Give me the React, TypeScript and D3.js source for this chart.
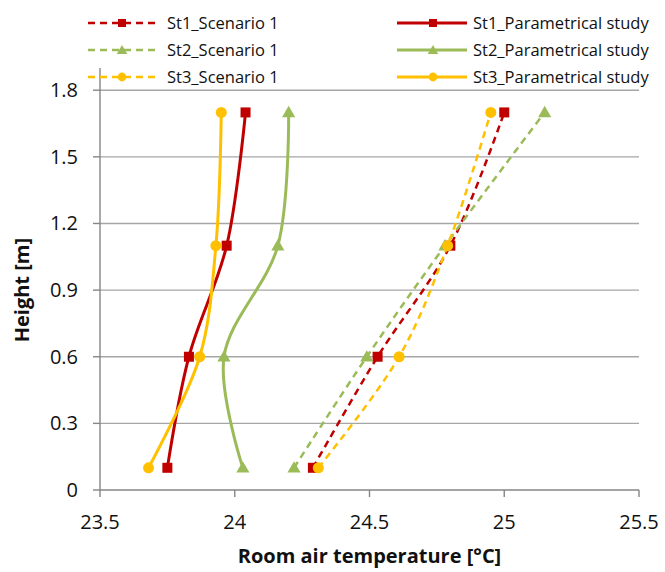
import * as d3 from 'd3'

// heights of the measuring points [m]
const heights = [0.1, 0.6, 1.1, 1.7]

// room air temperature [°C]
const st1Scenario = [24.29, 24.53, 24.8, 25.0]
const st2Scenario = [24.22, 24.49, 24.78, 25.15]
const st3Scenario = [24.31, 24.61, 24.79, 24.95]
const st1Param = [23.75, 23.83, 23.97, 24.04]
const st2Param = [24.03, 23.96, 24.16, 24.2]
const st3Param = [23.68, 23.87, 23.93, 23.95]

const xTicks = [23.5, 24, 24.5, 25, 25.5]
const yTicks = [0, 0.3, 0.6, 0.9, 1.2, 1.5, 1.8]

type Marker = 'square' | 'triangle' | 'circle'
type Series = {
    name: string
    values: number[]
    color: string
    marker: Marker
    dashed: boolean
}

const RED = '#c00000'
const GREEN = '#9bbb59'
const YELLOW = '#ffc000'

const series: Series[] = [
    { name: 'St1_Scenario 1', values: st1Scenario, color: RED, marker: 'square', dashed: true },
    { name: 'St2_Scenario 1', values: st2Scenario, color: GREEN, marker: 'triangle', dashed: true },
    { name: 'St3_Scenario 1', values: st3Scenario, color: YELLOW, marker: 'circle', dashed: true },
    { name: 'St1_Parametrical study', values: st1Param, color: RED, marker: 'square', dashed: false },
    { name: 'St2_Parametrical study', values: st2Param, color: GREEN, marker: 'triangle', dashed: false },
    { name: 'St3_Parametrical study', values: st3Param, color: YELLOW, marker: 'circle', dashed: false },
]

const W = 665
const H = 572
const FONT = '"Open Sans", "DejaVu Sans", sans-serif'

const x = d3.scaleLinear().domain([23.5, 25.5]).range([100, 639])
const y = d3.scaleLinear().domain([0, 1.9]).range([490, 68])

const MarkerShape = ({ kind, cx, cy, color, size = 1 }: { kind: Marker; cx: number; cy: number; color: string; size?: number }) => {
    if (kind === 'square') {
        const s = 10 * size
        return <rect x={cx - s / 2} y={cy - s / 2} width={s} height={s} fill={color} />
    }
    if (kind === 'circle') {
        return <circle cx={cx} cy={cy} r={5.5 * size} fill={color} />
    }
    const sym = d3.symbol().type(d3.symbolTriangle).size(75 * size * size)()
    return <path d={sym || ''} transform={`translate(${cx},${cy + 1})`} fill={color} />
}

const App = () => {
    const line = d3
        .line<number>()
        .x(d => x(d))
        .y((_, i) => y(heights[i]))
        .curve(d3.curveCatmullRom.alpha(0.5))

    const legendRows = [23, 50, 77]

    return (
        <svg width={W} height={H} style={{ position: 'absolute', left: 0, top: 0, background: '#fff' }} fontFamily={FONT}>
            {/* gridlines */}
            {yTicks.filter(t => t > 0).map(t => (
                <line key={t} x1={x(23.5)} x2={x(25.5)} y1={y(t)} y2={y(t)} stroke="#a6a6a6" strokeWidth={1.4} />
            ))}

            {/* axes */}
            <line x1={x(23.5)} x2={x(25.5)} y1={y(0)} y2={y(0)} stroke="#868686" strokeWidth={1.4} />
            <line x1={x(23.5)} x2={x(23.5)} y1={y(0)} y2={y(1.9)} stroke="#868686" strokeWidth={1.4} />
            {yTicks.map(t => (
                <g key={t}>
                    <line x1={x(23.5) - 7} x2={x(23.5)} y1={y(t)} y2={y(t)} stroke="#868686" strokeWidth={1.4} />
                    <text x={78} y={y(t)} dy="0.35em" textAnchor="end" fontSize={20} fill="#111">
                        {t === 0 ? '0' : t.toFixed(1)}
                    </text>
                </g>
            ))}
            {xTicks.map(t => (
                <g key={t}>
                    <line x1={x(t)} x2={x(t)} y1={y(0)} y2={y(0) + 7} stroke="#868686" strokeWidth={1.4} />
                    <text x={x(t)} y={522} dy="0.35em" textAnchor="middle" fontSize={20} fill="#111">
                        {t}
                    </text>
                </g>
            ))}

            {/* axis titles */}
            <text x={(x(23.5) + x(25.5)) / 2} y={556} dy="0.35em" textAnchor="middle" fontSize={20} fontWeight="bold" fill="#111">
                Room air temperature [°C]
            </text>
            <text transform={`translate(22,${y(0.9)}) rotate(-90)`} dy="0.35em" textAnchor="middle" fontSize={20} fontWeight="bold" fill="#111">
                Height [m]
            </text>

            {/* series */}
            {series.map(s => (
                <g key={s.name}>
                    <path
                        d={line(s.values) || ''}
                        fill="none"
                        stroke={s.color}
                        strokeWidth={s.dashed ? 2.5 : 3}
                        strokeDasharray={s.dashed ? '7,5' : undefined}
                    />
                    {s.values.map((v, i) => (
                        <MarkerShape key={i} kind={s.marker} cx={x(v)} cy={y(heights[i])} color={s.color} />
                    ))}
                </g>
            ))}

            {/* legend */}
            {series.map((s, i) => {
                const col = i < 3 ? 0 : 1
                const ry = legendRows[i % 3]
                const x0 = col === 0 ? 88 : 397
                const x1 = col === 0 ? 160 : 467
                const mx = col === 0 ? 122 : 433
                const tx = col === 0 ? 167 : 473
                return (
                    <g key={'lg' + s.name}>
                        <line
                            x1={x0}
                            x2={x1}
                            y1={ry}
                            y2={ry}
                            stroke={s.color}
                            strokeWidth={s.dashed ? 2.5 : 3}
                            strokeDasharray={s.dashed ? '7,5' : undefined}
                        />
                        <MarkerShape kind={s.marker} cx={mx} cy={ry} color={s.color} size={0.8} />
                        <text x={tx} y={ry} dy="0.35em" fontSize={16.5} fill="#111">
                            {s.name}
                        </text>
                    </g>
                )
            })}
        </svg>
    )
}

export default App
